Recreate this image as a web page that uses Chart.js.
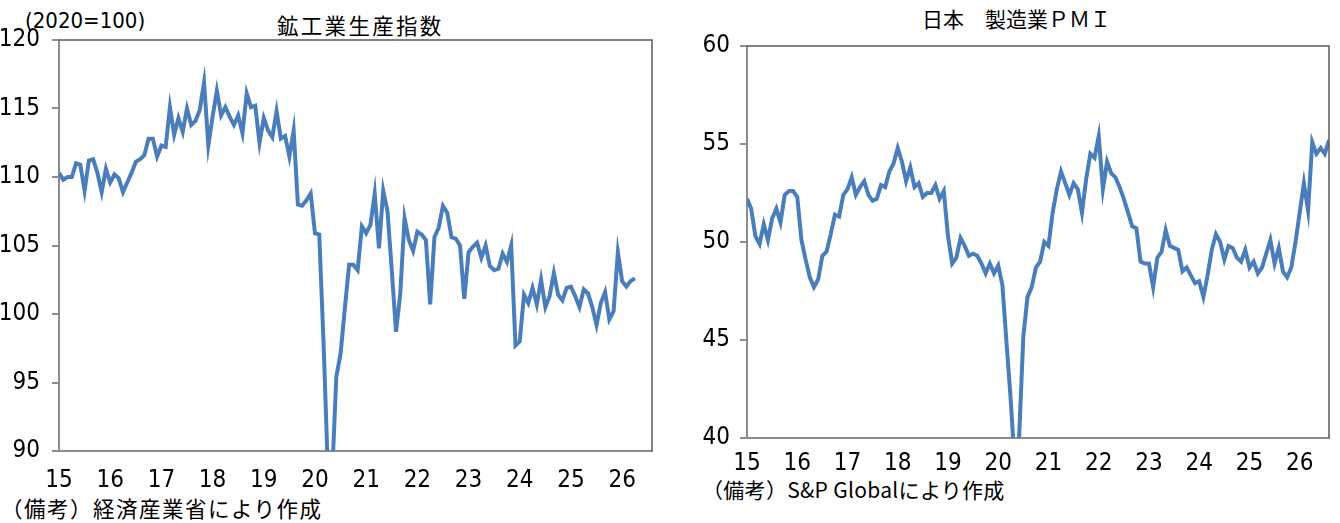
<!DOCTYPE html>
<html>
<head>
<meta charset="utf-8">
<script src="https://cdn.jsdelivr.net/npm/chart.js@4"></script>
<style>
  body { margin: 0; background: #fff; }
  #wrap { position: relative; width: 1340px; height: 523px; overflow: hidden; font-family: "Noto Sans CJK JP", sans-serif; color: #000; }
  .txt { position: absolute; white-space: nowrap; line-height: 1; }
  canvas { position: absolute; }
</style>
</head>
<body>
<div id="wrap">
  <div class="txt" style="left:25px;top:10px;font-family:'Liberation Sans Narrow','DejaVu Sans Condensed',sans-serif;font-size:22px;">(2020=100)</div>
  <div class="txt" style="left:277px;top:14px;font-size:21.5px;letter-spacing:2.3px;">鉱工業生産指数</div>
  <div class="txt" style="left:1px;top:497px;font-size:21.5px;letter-spacing:1.5px;">（備考）経済産業省により作成</div>
  <div class="txt" style="left:922px;top:8px;font-size:21px;">日本　製造業ＰＭＩ</div>
  <div class="txt" style="left:702px;top:479px;font-size:21px;letter-spacing:0.3px;">（備考）S&amp;P Globalにより作成</div>
  <div style="position:absolute;left:0;top:0;width:670px;height:490px;"><canvas id="ipChart"></canvas></div>
  <div style="position:absolute;left:680px;top:0;width:660px;height:480px;"><canvas id="pmiChart"></canvas></div>
</div>
<script>
// month labels: Jan 2015 .. Aug 2026, only January gets the year
var yearLabels = ["15", "16", "17", "18", "19", "20", "21", "22", "23", "24", "25", "26"];
var months = [];
for (var i = 0; i < 140; i++) {
    months.push(i % 12 === 0 ? yearLabels[i / 12] : "");
}

// 鉱工業生産指数 (2020=100)
var ipValues = [
    110.3, 109.8, 110.0, 110.0, 111.0, 110.9, 109.0, 111.2, 111.3, 110.3, 108.9, 110.6,
    109.6, 110.2, 109.9, 108.9, 109.6, 110.3, 111.1, 111.3, 111.6, 112.8, 112.8, 111.5,
    112.3, 112.2, 115.1, 113.1, 114.3, 113.3, 115.0, 113.8, 114.1, 114.9, 116.9, 112.3,
    114.4, 116.3, 114.5, 115.1, 114.4, 113.8, 114.5, 113.2, 116.1, 115.1, 115.2, 112.5,
    114.3, 113.4, 112.9, 114.8, 112.8, 113.0, 111.5, 113.4, 108.0, 107.9, 108.3, 108.8,
    105.9, 105.8, 98.0, 88.8, 88.0, 95.4, 97.1, 100.4, 103.6, 103.6, 103.2, 106.4,
    105.9, 106.5, 108.8, 104.8, 109.0, 107.5, 103.2, 98.7, 101.5, 107.0, 105.4, 104.6,
    106.0, 105.8, 105.4, 100.7, 105.6, 106.3, 107.9, 107.4, 105.6, 105.5, 105.0, 101.1,
    104.5, 104.9, 105.2, 104.1, 105.0, 103.5, 103.2, 103.3, 104.4, 103.8, 105.0, 97.7,
    98.0, 101.4, 100.8, 101.9, 100.7, 102.5, 100.5, 101.3, 103.0, 101.4, 101.0, 101.9,
    102.0, 101.3, 100.5, 101.8, 101.5, 100.5, 99.2, 100.8, 101.6, 99.6, 100.2, 104.5,
    102.4, 102.0, 102.4, 102.6
];

// 日本 製造業PMI
var pmiValues = [
    52.2, 51.7, 50.3, 49.9, 50.9, 50.1, 51.2, 51.7, 51.0, 52.4, 52.6, 52.6,
    52.3, 50.1, 49.1, 48.2, 47.7, 48.1, 49.3, 49.5, 50.4, 51.4, 51.3, 52.4,
    52.7, 53.3, 52.4, 52.8, 53.1, 52.4, 52.1, 52.2, 52.9, 52.8, 53.6, 54.0,
    54.8, 54.1, 53.1, 53.8, 52.8, 53.0, 52.3, 52.5, 52.5, 52.9, 52.2, 52.6,
    50.3, 48.9, 49.2, 50.2, 49.8, 49.3, 49.4, 49.3, 48.9, 48.4, 48.9, 48.4,
    48.8, 47.8, 44.8, 41.9, 38.4, 40.1, 45.2, 47.2, 47.7, 48.7, 49.0, 50.0,
    49.8, 51.5, 52.7, 53.6, 53.0, 52.4, 53.0, 52.7, 51.5, 53.2, 54.5, 54.3,
    55.4, 52.7, 54.1, 53.5, 53.3, 52.8, 52.2, 51.5, 50.8, 50.7, 49.0, 48.9,
    48.9, 47.7, 49.2, 49.5, 50.6, 49.8, 49.7, 49.6, 48.5, 48.7, 48.3, 47.9,
    48.0, 47.2, 48.3, 49.6, 50.4, 50.0, 49.1, 49.8, 49.7, 49.2, 49.0, 49.6,
    48.7, 49.0, 48.4, 48.7, 49.4, 50.1, 48.9, 49.7, 48.5, 48.2, 48.7, 50.0,
    51.5, 53.0, 51.6, 55.1, 54.5, 54.8, 54.5, 55.2
];

var tickFont = { family: "'Liberation Sans Narrow', 'DejaVu Sans Condensed', sans-serif", size: 24 };

// frame on top and right of the plot area
var framePlugin = {
    id: "frame",
    afterDraw: function (chart) {
        var a = chart.chartArea;
        var ctx = chart.ctx;
        ctx.save();
        ctx.strokeStyle = "#5a5a5a";
        ctx.lineWidth = 1.5;
        ctx.beginPath();
        ctx.moveTo(a.left, a.top);
        ctx.lineTo(a.right, a.top);
        ctx.lineTo(a.right, a.bottom);
        ctx.stroke();
        ctx.restore();
    }
};

function makeChart(id, values, yMin, yMax, step, yWidth, xHeight, pad, labelPad, xPad) {
    return new Chart(id, {
        type: "line",
        data: {
            labels: months,
            datasets: [{
                data: values,
                borderColor: "#4A7EBB",
                borderWidth: 4,
                pointRadius: 0,
                fill: false,
                tension: 0,
                clip: 0
            }]
        },
        options: {
            responsive: true,
            maintainAspectRatio: false,
            animation: false,
            layout: { padding: pad },
            plugins: {
                legend: { display: false },
                tooltip: { enabled: false }
            },
            scales: {
                x: {
                    grid: { display: false, drawTicks: false },
                    border: { display: true, color: "#8c8c8c", width: 2 },
                    ticks: {
                        autoSkip: false,
                        maxRotation: 0,
                        minRotation: 0,
                        padding: xPad,
                        color: "#000",
                        font: tickFont
                    },
                    afterFit: function (s) { s.height = xHeight; }
                },
                y: {
                    min: yMin,
                    max: yMax,
                    grid: {
                        drawOnChartArea: false,
                        drawTicks: true,
                        tickLength: 7,
                        color: "#8c8c8c",
                        lineWidth: 2
                    },
                    border: { display: true, color: "#8c8c8c", width: 2 },
                    ticks: {
                        stepSize: step,
                        padding: labelPad,
                        color: "#000",
                        font: tickFont
                    },
                    afterFit: function (s) { s.width = yWidth; }
                }
            }
        },
        plugins: [framePlugin]
    });
}

makeChart("ipChart", ipValues, 90, 120, 5, 59, 39, { top: 40, right: 18, left: 0, bottom: 0 }, 12, 15);
makeChart("pmiChart", pmiValues, 40, 60, 5, 67, 42, { top: 46, right: 5, left: 0, bottom: 0 }, 10, 11);
</script>
</body>
</html>
